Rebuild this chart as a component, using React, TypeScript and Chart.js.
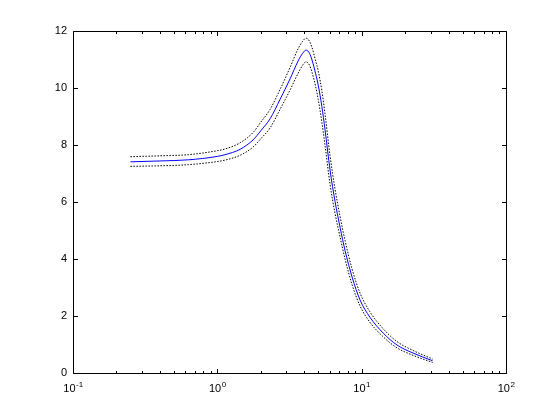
import React, { useEffect, useRef } from "react";
import { Chart, registerables } from "chart.js";

Chart.register(...registerables);

// Frequency (log x axis)
const freq = [0.25, 0.4, 0.63, 1.0, 1.13, 1.44, 1.77, 2.0, 2.32, 2.72, 3.19, 3.63, 3.9, 4.12, 4.35, 4.53, 4.8, 5.0, 5.3, 5.57, 6.04, 6.54, 7.08, 7.67, 8.58, 9.75, 11.4, 14.1, 17.6, 22.7, 31.0];
// Main response (blue solid)
const mag = [7.41, 7.44, 7.48, 7.6, 7.66, 7.85, 8.18, 8.5, 8.92, 9.6, 10.32, 10.95, 11.22, 11.33, 11.22, 10.98, 10.5, 10.1, 9.35, 8.55, 7.12, 6.02, 5.12, 4.3, 3.37, 2.56, 1.96, 1.4, 0.98, 0.7, 0.43];
// Upper bound (black dotted)
const upper = [7.59, 7.62, 7.66, 7.8, 7.86, 8.08, 8.44, 8.8, 9.25, 9.95, 10.72, 11.38, 11.64, 11.75, 11.64, 11.42, 10.95, 10.6, 9.9, 9.1, 7.62, 6.45, 5.5, 4.65, 3.65, 2.8, 2.15, 1.55, 1.1, 0.79, 0.49];
// Lower bound (black dotted)
const lower = [7.25, 7.27, 7.31, 7.42, 7.47, 7.64, 7.93, 8.22, 8.6, 9.25, 9.93, 10.52, 10.8, 10.92, 10.8, 10.55, 10.05, 9.6, 8.8, 8.0, 6.62, 5.6, 4.78, 4.0, 3.1, 2.35, 1.78, 1.27, 0.88, 0.62, 0.37];

// x tick labels: base and exponent per decade
const xTickValues = [0.1, 1, 10, 100];
const xTickBase = ["10", "10", "10", "10"];
const xTickExp = ["-1", "0", "1", "2"];
const yTicks = [0, 2, 4, 6, 8, 10, 12];

const FAMILY = "'Liberation Sans', Arial, sans-serif";
const FONT = { family: FAMILY, size: 11 };

const toPts = (ys: number[]) => freq.map((x, i) => ({ x, y: ys[i] }));

const boxPlugin = {
  id: "matlabBox",
  afterDraw(chart: any) {
    const { ctx, chartArea: a, scales } = chart;
    const L = Math.round(a.left) + 0.5;
    const R = Math.round(a.right) + 0.5;
    const T = Math.round(a.top) + 0.5;
    const B = Math.round(a.bottom) + 0.5;
    ctx.save();
    ctx.strokeStyle = "#000";
    ctx.lineWidth = 1;
    ctx.beginPath();
    ctx.rect(L, T, R - L, B - T);
    // x ticks (major & minor), top and bottom, inside
    for (let d = -1; d <= 2; d++) {
      for (let m = 1; m <= 9; m++) {
        const v = m * Math.pow(10, d);
        if (v > 100.0001) break;
        const px = Math.round(scales.x.getPixelForValue(v)) + 0.5;
        const len = m === 1 ? 4.5 : 2.5;
        ctx.moveTo(px, B);
        ctx.lineTo(px, B - len);
        ctx.moveTo(px, T);
        ctx.lineTo(px, T + len);
      }
    }
    // y ticks, left and right, inside
    for (const v of yTicks) {
      const py = Math.round(scales.y.getPixelForValue(v)) + 0.5;
      ctx.moveTo(L, py);
      ctx.lineTo(L + 4.5, py);
      ctx.moveTo(R, py);
      ctx.lineTo(R - 4.5, py);
    }
    ctx.stroke();

    // x tick labels with superscript exponent
    ctx.fillStyle = "#000";
    ctx.textBaseline = "alphabetic";
    ctx.textAlign = "left";
    xTickValues.forEach((v, i) => {
      const px = scales.x.getPixelForValue(v);
      ctx.font = `11px ${FAMILY}`;
      const wb = ctx.measureText(xTickBase[i]).width;
      ctx.font = `8px ${FAMILY}`;
      const we = ctx.measureText(xTickExp[i]).width;
      const x0 = px - (wb + we) / 2;
      ctx.font = `11px ${FAMILY}`;
      ctx.fillText(xTickBase[i], x0, B + 18);
      ctx.font = `8px ${FAMILY}`;
      ctx.fillText(xTickExp[i], x0 + wb + 0.5, B + 13);
    });
    ctx.restore();
  },
};

export default function App() {
  const ref = useRef<HTMLCanvasElement | null>(null);
  useEffect(() => {
    if (!ref.current) return;
    const dotted = {
      borderColor: "#000",
      borderWidth: 1,
      borderDash: [1.5, 1.5],
      pointRadius: 0,
      cubicInterpolationMode: "monotone",
      fill: false,
    };
    const chart = new Chart(ref.current, {
      type: "line",
      data: {
        datasets: [
          { ...dotted, data: toPts(upper) },
          { ...dotted, data: toPts(lower) },
          {
            data: toPts(mag),
            borderColor: "#0000ff",
            borderWidth: 1,
            pointRadius: 0,
            cubicInterpolationMode: "monotone",
            fill: false,
          },
        ],
      },
      options: {
        animation: false,
        responsive: true,
        maintainAspectRatio: false,
        layout: { padding: { top: 31, right: 54, left: 0, bottom: 0 } },
        plugins: { legend: { display: false }, tooltip: { enabled: false } },
        scales: {
          x: {
            type: "logarithmic",
            min: 0.1,
            max: 100,
            grid: { display: false, drawTicks: false },
            border: { display: false },
            afterFit: (s: any) => {
              s.height = 47;
            },
            ticks: { display: false },
          },
          y: {
            min: 0,
            max: 12,
            grid: { display: false, drawTicks: false },
            border: { display: false },
            afterFit: (s: any) => {
              s.width = 73;
            },
            afterBuildTicks: (s: any) => {
              s.ticks = yTicks.map((v) => ({ value: v }));
            },
            ticks: {
              padding: 6,
              color: "#000",
              font: FONT,
              callback: (v: any) => String(v),
            },
          },
        },
      },
      plugins: [boxPlugin],
    } as any);
    return () => chart.destroy();
  }, []);
  return (
    <div style={{ position: "fixed", left: 0, top: 0, width: 560, height: 420, background: "#fff" }}>
      <canvas ref={ref} width={560} height={420} />
    </div>
  );
}
